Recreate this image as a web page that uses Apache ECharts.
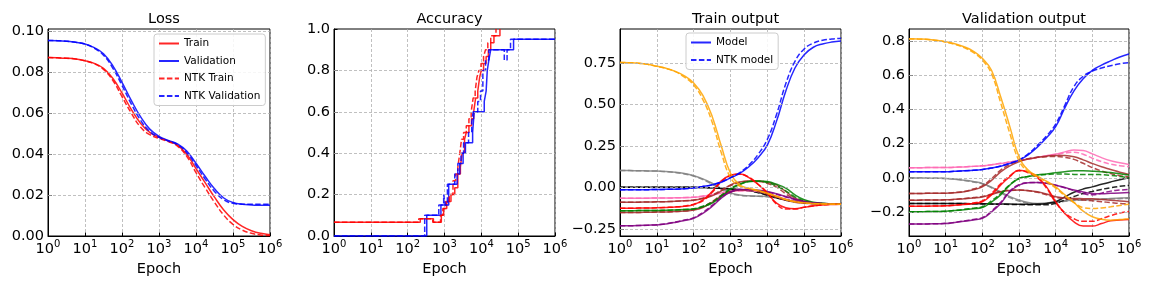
<!DOCTYPE html>
<html><head><meta charset="utf-8">
<script src="https://cdn.jsdelivr.net/npm/echarts@6/dist/echarts.min.js"></script>
<style>html,body{margin:0;padding:0;background:#fff}#c{width:1152px;height:288px}</style>
</head><body><div id="c"></div>
<script>
// x positions (epochs, quarter decades)
const EPOCHS = [1, 1.778, 3.162, 5.623, 10, 17.78, 31.62, 56.23, 100, 177.8, 316.2, 562.3, 1000, 1778, 3162, 5623, 10000, 17783, 31623, 56234, 100000, 177828, 316228, 562341, 1000000];

// y tick labels per panel
const LOSS_TICKS = [0, 0.02, 0.04, 0.06, 0.08, 0.10];
const ACC_TICKS = [0, 0.2, 0.4, 0.6, 0.8, 1.0];
const TRAIN_OUT_TICKS = [-0.25, 0, 0.25, 0.5, 0.75];
const VAL_OUT_TICKS = [-0.2, 0, 0.2, 0.4, 0.6, 0.8];

// Loss panel
const lossTrain    = [0.0873,0.0872,0.0870,0.0866,0.0858,0.0845,0.0820,0.0772,0.0700,0.0620,0.0552,0.0507,0.0483,0.0465,0.0445,0.0400,0.0330,0.0260,0.0190,0.0127,0.0080,0.0047,0.0026,0.0013,0.0006];
const lossVal      = [0.0957,0.0956,0.0953,0.0948,0.0940,0.0922,0.0892,0.0834,0.0752,0.0664,0.0584,0.0523,0.0488,0.0468,0.0451,0.0416,0.0356,0.0291,0.0231,0.0186,0.0164,0.0155,0.0152,0.0150,0.0150];
const lossNtkTrain = [0.0873,0.0872,0.0870,0.0866,0.0857,0.0843,0.0815,0.0762,0.0682,0.0602,0.0533,0.0496,0.0478,0.0462,0.0440,0.0390,0.0310,0.0235,0.0165,0.0102,0.0057,0.0029,0.0013,0.0005,0.0002];
const lossNtkVal   = [0.0957,0.0956,0.0953,0.0948,0.0939,0.0919,0.0885,0.0822,0.0737,0.0647,0.0567,0.0511,0.0483,0.0465,0.0447,0.0408,0.0345,0.0278,0.0218,0.0177,0.0160,0.0156,0.0155,0.0155,0.0155];

// Accuracy panel: [epoch, value] at each change
const accTrain = [[1,0.067],[220,0.083],[500,0.067],[820,0.1],[950,0.133],[1150,0.167],[1500,0.2],[1900,0.233],[2300,0.3],[2700,0.333],[3000,0.4],[3500,0.467],[3900,0.5],[4600,0.533],[5400,0.567],[6200,0.6],[7000,0.667],[8000,0.7],[9000,0.767],[10000,0.8],[11500,0.833],[13500,0.867],[15500,0.9],[18000,0.933],[22000,0.967],[32000,1.0]];
const accVal = [[1,0],[330,0.1],[800,0.15],[1300,0.25],[2200,0.3],[2600,0.35],[3200,0.4],[3700,0.45],[5800,0.5],[6400,0.6],[12000,0.65],[13500,0.7],[14500,0.8],[16000,0.85],[18000,0.9],[75000,0.95],[1000000,0.95]];
const accNtkTrain = [[1,0.067],[200,0.083],[480,0.067],[780,0.1],[900,0.133],[1080,0.167],[1350,0.2],[1700,0.267],[2000,0.3],[2300,0.333],[2600,0.4],[2900,0.467],[3300,0.5],[3900,0.533],[4600,0.567],[5300,0.6],[6000,0.667],[6800,0.7],[7600,0.767],[8600,0.8],[9800,0.833],[11500,0.867],[13000,0.9],[15000,0.933],[18000,0.967],[25000,1.0]];
const accNtkVal = [[1,0],[290,0.1],[700,0.15],[950,0.2],[1050,0.15],[1200,0.25],[1900,0.3],[2300,0.35],[2800,0.4],[3300,0.45],[4500,0.5],[5500,0.55],[6000,0.6],[8000,0.65],[9500,0.7],[11000,0.8],[13000,0.85],[16000,0.9],[42000,0.85],[50000,0.9],[62000,0.95],[1000000,0.95]];

// Train output panel (model solid / NTK dashed)
const trOrange   = [0.753,0.752,0.749,0.742,0.730,0.718,0.700,0.672,0.630,0.555,0.430,0.250,0.086,0.016,-0.004,-0.018,-0.034,-0.052,-0.072,-0.085,-0.092,-0.096,-0.098,-0.099,-0.100];
const trOrangeN  = [0.753,0.752,0.749,0.742,0.730,0.717,0.698,0.665,0.618,0.530,0.395,0.210,0.060,0.008,-0.006,-0.020,-0.036,-0.054,-0.073,-0.086,-0.093,-0.097,-0.099,-0.100,-0.100];
const trBlue     = [-0.014,-0.014,-0.014,-0.013,-0.012,-0.011,-0.010,-0.007,-0.002,0.006,0.016,0.032,0.058,0.085,0.125,0.180,0.255,0.400,0.580,0.720,0.800,0.845,0.865,0.876,0.882];
const trBlueN    = [-0.014,-0.014,-0.014,-0.013,-0.012,-0.011,-0.010,-0.007,-0.002,0.006,0.017,0.034,0.060,0.090,0.135,0.200,0.290,0.440,0.625,0.760,0.835,0.870,0.887,0.895,0.900];
const trGray     = [0.102,0.102,0.101,0.100,0.099,0.096,0.092,0.084,0.071,0.052,0.026,-0.005,-0.032,-0.045,-0.050,-0.052,-0.054,-0.062,-0.074,-0.084,-0.090,-0.095,-0.097,-0.099,-0.100];
const trGrayN    = [0.102,0.102,0.101,0.100,0.099,0.096,0.091,0.082,0.069,0.048,0.020,-0.010,-0.036,-0.047,-0.051,-0.053,-0.055,-0.063,-0.075,-0.085,-0.091,-0.095,-0.097,-0.099,-0.100];
const trBlack    = [0.002,0.002,0.002,0.002,0.002,0.002,0.002,0.002,0.001,0.000,-0.002,-0.005,-0.008,-0.012,-0.018,-0.028,-0.044,-0.060,-0.074,-0.084,-0.090,-0.095,-0.097,-0.099,-0.100];
const trBlackN   = [0.002,0.002,0.002,0.002,0.002,0.002,0.002,0.002,0.001,0.000,-0.002,-0.005,-0.009,-0.014,-0.020,-0.031,-0.047,-0.063,-0.076,-0.086,-0.091,-0.095,-0.097,-0.099,-0.100];
const trRed      = [-0.125,-0.125,-0.124,-0.123,-0.122,-0.120,-0.118,-0.113,-0.104,-0.075,-0.024,0.040,0.074,0.082,0.060,0.018,-0.034,-0.094,-0.122,-0.128,-0.119,-0.111,-0.105,-0.102,-0.100];
const trRedN     = [-0.125,-0.125,-0.124,-0.123,-0.122,-0.120,-0.117,-0.111,-0.100,-0.080,-0.030,0.035,0.072,0.080,0.062,0.020,-0.030,-0.100,-0.130,-0.130,-0.118,-0.110,-0.104,-0.101,-0.100];
const trPink     = [-0.064,-0.064,-0.064,-0.064,-0.063,-0.063,-0.062,-0.061,-0.059,-0.053,-0.044,-0.033,-0.025,-0.020,-0.018,-0.023,-0.034,-0.052,-0.070,-0.082,-0.090,-0.095,-0.097,-0.099,-0.100];
const trPinkN    = [-0.064,-0.064,-0.064,-0.064,-0.063,-0.063,-0.062,-0.060,-0.058,-0.051,-0.042,-0.031,-0.024,-0.020,-0.019,-0.025,-0.037,-0.055,-0.072,-0.084,-0.091,-0.095,-0.097,-0.099,-0.100];
const trBrown1   = [-0.088,-0.088,-0.088,-0.087,-0.086,-0.085,-0.083,-0.080,-0.076,-0.066,-0.050,-0.020,0.016,0.034,0.040,0.040,0.032,0.016,-0.024,-0.064,-0.084,-0.093,-0.097,-0.099,-0.100];
const trBrown1N  = [-0.088,-0.088,-0.088,-0.087,-0.086,-0.085,-0.083,-0.080,-0.075,-0.064,-0.046,-0.016,0.012,0.030,0.038,0.036,0.025,0.002,-0.038,-0.072,-0.088,-0.095,-0.098,-0.099,-0.100];
const trGreen    = [-0.140,-0.140,-0.139,-0.139,-0.138,-0.137,-0.135,-0.133,-0.130,-0.116,-0.094,-0.055,-0.010,0.018,0.036,0.040,0.036,0.020,-0.004,-0.044,-0.074,-0.088,-0.095,-0.098,-0.100];
const trGreenN   = [-0.140,-0.140,-0.139,-0.139,-0.138,-0.137,-0.135,-0.132,-0.128,-0.112,-0.088,-0.048,-0.006,0.020,0.036,0.038,0.030,0.010,-0.020,-0.056,-0.080,-0.091,-0.096,-0.099,-0.100];
const trBrown2   = [-0.150,-0.150,-0.150,-0.149,-0.148,-0.147,-0.145,-0.142,-0.136,-0.120,-0.090,-0.050,-0.025,-0.015,-0.014,-0.020,-0.035,-0.055,-0.072,-0.085,-0.093,-0.097,-0.099,-0.100,-0.100];
const trBrown2N  = [-0.150,-0.150,-0.150,-0.149,-0.148,-0.147,-0.145,-0.141,-0.134,-0.116,-0.085,-0.046,-0.022,-0.014,-0.015,-0.023,-0.040,-0.060,-0.076,-0.088,-0.094,-0.098,-0.099,-0.100,-0.100];
const trPurple   = [-0.231,-0.230,-0.229,-0.227,-0.225,-0.219,-0.210,-0.199,-0.185,-0.155,-0.114,-0.064,-0.028,-0.012,-0.012,-0.016,-0.024,-0.038,-0.054,-0.070,-0.084,-0.092,-0.096,-0.099,-0.100];
const trPurpleN  = [-0.231,-0.230,-0.229,-0.227,-0.224,-0.218,-0.208,-0.196,-0.182,-0.150,-0.108,-0.060,-0.026,-0.012,-0.013,-0.018,-0.027,-0.041,-0.057,-0.073,-0.086,-0.093,-0.097,-0.099,-0.100];

// Validation output panel
const vaOrange   = [0.815,0.814,0.812,0.806,0.797,0.785,0.768,0.742,0.700,0.630,0.475,0.300,0.123,0.045,0.010,-0.020,-0.053,-0.100,-0.145,-0.195,-0.228,-0.243,-0.248,-0.245,-0.240];
const vaOrangeN  = [0.814,0.813,0.811,0.805,0.795,0.782,0.763,0.735,0.690,0.610,0.440,0.260,0.100,0.035,0.005,-0.025,-0.060,-0.105,-0.145,-0.175,-0.180,-0.177,-0.170,-0.162,-0.155];
const vaBlue     = [0.035,0.035,0.035,0.036,0.036,0.038,0.041,0.044,0.049,0.057,0.068,0.084,0.104,0.135,0.180,0.235,0.300,0.410,0.510,0.580,0.630,0.660,0.685,0.708,0.725];
const vaBlueN    = [0.035,0.035,0.035,0.036,0.036,0.038,0.041,0.044,0.049,0.057,0.069,0.086,0.106,0.140,0.190,0.245,0.315,0.425,0.535,0.595,0.625,0.643,0.657,0.668,0.675];
const vaPink     = [0.059,0.059,0.060,0.060,0.060,0.062,0.064,0.067,0.070,0.077,0.084,0.092,0.100,0.110,0.120,0.130,0.139,0.152,0.163,0.160,0.140,0.118,0.100,0.088,0.078];
const vaPinkN    = [0.059,0.059,0.060,0.060,0.060,0.062,0.064,0.067,0.070,0.077,0.085,0.093,0.101,0.110,0.119,0.128,0.135,0.145,0.150,0.138,0.115,0.095,0.080,0.071,0.065];
const vaBrown1   = [-0.092,-0.092,-0.091,-0.091,-0.090,-0.087,-0.082,-0.070,-0.053,-0.015,0.035,0.070,0.094,0.110,0.120,0.127,0.131,0.130,0.123,0.105,0.084,0.065,0.049,0.033,0.020];
const vaBrown1N  = [-0.092,-0.092,-0.091,-0.091,-0.090,-0.086,-0.080,-0.066,-0.047,-0.005,0.045,0.078,0.098,0.112,0.120,0.124,0.125,0.120,0.108,0.085,0.060,0.040,0.025,0.012,0.005];
const vaBrown2   = [-0.131,-0.131,-0.130,-0.130,-0.129,-0.126,-0.122,-0.118,-0.112,-0.098,-0.082,-0.074,-0.072,-0.075,-0.082,-0.095,-0.111,-0.118,-0.121,-0.122,-0.123,-0.127,-0.131,-0.136,-0.140];
const vaBrown2N  = [-0.131,-0.131,-0.130,-0.130,-0.129,-0.126,-0.121,-0.116,-0.110,-0.095,-0.080,-0.073,-0.072,-0.076,-0.085,-0.099,-0.115,-0.122,-0.126,-0.130,-0.135,-0.140,-0.145,-0.150,-0.153];
const vaGray     = [0.000,-0.001,-0.002,-0.003,-0.004,-0.008,-0.014,-0.022,-0.033,-0.055,-0.082,-0.110,-0.130,-0.145,-0.150,-0.148,-0.140,-0.135,-0.130,-0.128,-0.127,-0.124,-0.121,-0.119,-0.117];
const vaGrayN    = [0.000,-0.001,-0.002,-0.003,-0.004,-0.008,-0.015,-0.024,-0.035,-0.058,-0.088,-0.116,-0.136,-0.150,-0.155,-0.152,-0.145,-0.138,-0.133,-0.130,-0.128,-0.126,-0.124,-0.122,-0.120];
const vaBlack    = [-0.150,-0.150,-0.150,-0.150,-0.150,-0.151,-0.151,-0.152,-0.152,-0.153,-0.154,-0.154,-0.155,-0.155,-0.154,-0.150,-0.140,-0.112,-0.085,-0.066,-0.053,-0.038,-0.024,-0.011,0.000];
const vaBlackN   = [-0.150,-0.150,-0.150,-0.150,-0.150,-0.151,-0.151,-0.152,-0.153,-0.154,-0.155,-0.156,-0.157,-0.158,-0.158,-0.158,-0.150,-0.130,-0.110,-0.092,-0.080,-0.068,-0.058,-0.050,-0.045];
const vaRed      = [-0.166,-0.166,-0.166,-0.165,-0.164,-0.161,-0.157,-0.150,-0.140,-0.100,-0.043,0.006,0.045,0.035,0.006,-0.053,-0.140,-0.209,-0.258,-0.283,-0.283,-0.268,-0.252,-0.247,-0.244];
const vaRedN     = [-0.166,-0.166,-0.166,-0.165,-0.164,-0.160,-0.155,-0.147,-0.135,-0.092,-0.035,0.012,0.042,0.030,0.000,-0.060,-0.145,-0.205,-0.240,-0.255,-0.255,-0.240,-0.222,-0.207,-0.197];
const vaGreen    = [-0.199,-0.199,-0.198,-0.197,-0.196,-0.192,-0.187,-0.181,-0.174,-0.142,-0.100,-0.043,-0.004,0.008,0.016,0.023,0.030,0.036,0.041,0.041,0.039,0.036,0.031,0.024,0.016];
const vaGreenN   = [-0.199,-0.199,-0.198,-0.197,-0.196,-0.191,-0.185,-0.178,-0.170,-0.135,-0.092,-0.040,-0.004,0.008,0.015,0.019,0.022,0.022,0.020,0.020,0.020,0.018,0.014,0.008,0.000];
const vaPurple   = [-0.271,-0.270,-0.270,-0.269,-0.268,-0.262,-0.255,-0.247,-0.238,-0.200,-0.150,-0.082,-0.043,-0.029,-0.027,-0.032,-0.043,-0.057,-0.072,-0.083,-0.092,-0.093,-0.091,-0.089,-0.086];
const vaPurpleN  = [-0.271,-0.270,-0.270,-0.269,-0.267,-0.261,-0.253,-0.244,-0.234,-0.195,-0.144,-0.078,-0.041,-0.028,-0.027,-0.032,-0.043,-0.058,-0.075,-0.092,-0.100,-0.090,-0.078,-0.072,-0.068];

const TITLES = ['Loss', 'Accuracy', 'Train output', 'Validation output'];
const XTICK_BASE = '10';
const XNAME = 'Epoch';

const C = {blue:'#0000ff', orange:'#ffa500', gray:'#808080', black:'#000000', red:'#ff0000', pink:'#ff69b4', brown:'#a52a2a', green:'#008000', purple:'#800080'};
const FONT = 'DejaVu Sans';
const DASH = [5.5, 2.4];
const GRIDLINE = {color:'#b0b0b0', width:0.8, type:[3,2]};

const grids = [
  {left:48, top:29, width:222, height:207},
  {left:334, top:29, width:221, height:207},
  {left:620, top:29, width:221, height:207},
  {left:909, top:29, width:220, height:207}
];
const yCfg = [
  {min:0, max:0.1013, ticks:LOSS_TICKS, dec:2},
  {min:0, max:1.0, ticks:ACC_TICKS, dec:1},
  {min:-0.292, max:0.955, ticks:TRAIN_OUT_TICKS, dec:2},
  {min:-0.341, max:0.872, ticks:VAL_OUT_TICKS, dec:1}
];

function zip(vals){ return EPOCHS.map((e,i)=>[e, vals[i]]); }
const series = [];
function line(name, idx, data, color, dashed, extra){
  series.push(Object.assign({
    name:name, type:'line', xAxisIndex:idx, yAxisIndex:idx, data:data, z:3,
    showSymbol:false, symbol:'none', smooth:0.45, animation:false,
    lineStyle:{color:color, width:1.5, type: dashed ? DASH : 'solid', opacity:0.85},
    itemStyle:{color:color}, emphasis:{disabled:true}
  }, extra||{}));
}
// grid lines along y for every panel (ticks at fixed values)
yCfg.forEach((c,i)=>{
  series.push({type:'line', name:'grid'+i, xAxisIndex:i, yAxisIndex:i, data:[], z:1, silent:true,
    markLine:{silent:true, animation:false, symbol:['none','none'], label:{show:false},
      lineStyle:GRIDLINE, emphasis:{disabled:true},
      data:c.ticks.filter(v=>v>c.min+1e-9 && v<c.max-1e-9).map(v=>({yAxis:v}))}});
});
// panel 1
line('Train',0,zip(lossTrain),C.red,false);
line('Validation',0,zip(lossVal),C.blue,false);
line('NTK Train',0,zip(lossNtkTrain),C.red,true);
line('NTK Validation',0,zip(lossNtkVal),C.blue,true);
// panel 2
line('acc_t',1,accTrain,C.red,false,{step:'end',smooth:false});
line('acc_v',1,accVal,C.blue,false,{step:'end',smooth:false});
line('acc_nt',1,accNtkTrain,C.red,true,{step:'end',smooth:false});
line('acc_nv',1,accNtkVal,C.blue,true,{step:'end',smooth:false});
// panel 3
const trPairs = [['gray',trGray,trGrayN],['black',trBlack,trBlackN],['pink',trPink,trPinkN],['brown',trBrown1,trBrown1N],['brown',trBrown2,trBrown2N],['green',trGreen,trGreenN],['purple',trPurple,trPurpleN],['red',trRed,trRedN],['orange',trOrange,trOrangeN]];
trPairs.forEach((p,i)=>{ line('tr'+i,2,zip(p[1]),C[p[0]],false); line('trn'+i,2,zip(p[2]),C[p[0]],true); });
line('Model',2,zip(trBlue),C.blue,false);
line('NTK model',2,zip(trBlueN),C.blue,true);
// panel 4
const vaPairs = [['gray',vaGray,vaGrayN],['black',vaBlack,vaBlackN],['pink',vaPink,vaPinkN],['brown',vaBrown1,vaBrown1N],['brown',vaBrown2,vaBrown2N],['green',vaGreen,vaGreenN],['purple',vaPurple,vaPurpleN],['red',vaRed,vaRedN],['blue',vaBlue,vaBlueN],['orange',vaOrange,vaOrangeN]];
vaPairs.forEach((p,i)=>{ line('va'+i,3,zip(p[1]),C[p[0]],false); line('van'+i,3,zip(p[2]),C[p[0]],true); });

const xAxes = grids.map((g,i)=>({
  type:'log', logBase:10, min:1, max:1000000, splitNumber:6, gridIndex:i,
  name:XNAME, nameLocation:'middle', nameGap:24,
  nameTextStyle:{fontFamily:FONT, fontSize:14.5, color:'#000'},
  axisLine:{onZero:false, lineStyle:{color:'#000', width:1}},
  axisTick:{inside:true, length:3.5, lineStyle:{color:'#000'}},
  minorTick:{show:false},
  splitLine:{show:true, lineStyle:GRIDLINE},
  axisLabel:{margin:3, showMinLabel:true, showMaxLabel:true,
    formatter:function(v){ const k=Math.round(Math.log10(v)); return '{b|'+XTICK_BASE+'}{s|'+k+'}'; },
    rich:{b:{fontFamily:FONT, fontSize:14.5, color:'#000', lineHeight:18, verticalAlign:'bottom'},
          s:{fontFamily:FONT, fontSize:10, color:'#000', lineHeight:18, verticalAlign:'top'}}}
}));
const yAxes = grids.map((g,i)=>{
  const c = yCfg[i];
  return {
    type:'value', gridIndex:i, min:c.min, max:c.max,
    axisLine:{show:true, onZero:false, lineStyle:{color:'#000', width:1}},
    axisTick:{show:true, inside:true, length:3.5, lineStyle:{color:'#000'}, customValues:c.ticks},
    splitLine:{show:false},
    axisLabel:{margin:4, fontFamily:FONT, fontSize:14.5, color:'#000', customValues:c.ticks,
      showMinLabel:true, showMaxLabel:true,
      formatter:function(v){ return v.toFixed(c.dec).replace('-','\u2212'); }}
  };
});
const titles = grids.map((g,i)=>({
  text:TITLES[i], left:g.left+g.width/2, top:7, textAlign:'center',
  textStyle:{fontFamily:FONT, fontSize:14.5, fontWeight:'normal', color:'#000'}
}));
const legendBase = {orient:'vertical', itemWidth:20, itemHeight:10, itemGap:6.5,
  backgroundColor:'rgba(255,255,255,0.85)', borderColor:'#cccccc', borderWidth:1, borderRadius:3,
  padding:[4,5,4,4], textStyle:{fontFamily:FONT, fontSize:10.5, color:'#000'}, selectedMode:false, z:10,
  itemStyle:{color:'rgba(0,0,0,0)', borderWidth:0, opacity:0}};
const legends = [
  Object.assign({}, legendBase, {left:154, top:34, data:['Train','Validation','NTK Train','NTK Validation']}),
  Object.assign({}, legendBase, {left:686, top:33, data:['Model','NTK model']})
];

const chart = echarts.init(document.getElementById('c'), null, {renderer:'canvas'});
chart.setOption({
  animation:false, backgroundColor:'#fff',
  title:titles, legend:legends,
  grid:grids.map(g=>Object.assign({show:true, borderColor:'#000', borderWidth:1, containLabel:false}, g)),
  xAxis:xAxes, yAxis:yAxes, series:series
});
</script></body></html>
